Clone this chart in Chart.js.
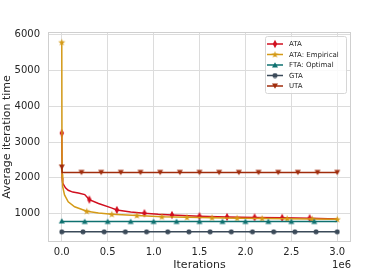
<!DOCTYPE html>
<html><head><meta charset="utf-8">
<script src="https://cdn.jsdelivr.net/npm/chart.js@4/dist/chart.umd.min.js"></script>
<style>html,body{margin:0;padding:0;background:#fff}#wrap{width:389px;height:272px}</style>
</head><body><div id="wrap"><canvas id="c" width="389" height="272"></canvas></div>
<script>
// ---- data (x in millions of iterations) ----
const seriesNames = ["ATA", "ATA: Empirical", "FTA: Optimal", "GTA", "UTA"];
const xTicks = [0, 0.5, 1.0, 1.5, 2.0, 2.5, 3.0];
const yTicks = [1000, 2000, 3000, 4000, 5000, 6000];

const ataX = [0, 0.004, 0.01, 0.04, 0.07, 0.12, 0.18, 0.25, 0.3, 0.4, 0.54, 0.6, 0.75, 0.9, 1.05, 1.2, 1.5, 1.8, 2.1, 2.4, 2.7, 3.0];
const ataY = [3250, 2000, 1850, 1720, 1650, 1600, 1575, 1530, 1390, 1280, 1160, 1100, 1045, 1010, 980, 960, 925, 905, 892, 880, 870, 850];
const ataMarks = [0, 0.3, 0.6, 0.9, 1.2, 1.5, 1.8, 2.1, 2.4, 2.7];

const empX = [0, 0.003, 0.01, 0.03, 0.07, 0.14, 0.2727, 0.4, 0.5455, 0.8182, 1.0909, 1.3636, 1.6364, 1.9091, 2.1818, 2.4545, 2.7273, 3.0];
const empY = [5790, 2100, 1750, 1520, 1330, 1190, 1065, 1015, 980, 945, 910, 895, 883, 872, 864, 857, 848, 840];
const empMarks = [0, 0.2727, 0.5455, 0.8182, 1.0909, 1.3636, 1.6364, 1.9091, 2.1818, 2.4545, 2.7273, 3.0];

const ftaX = [0, 0.004, 0.25, 0.5, 0.75, 1.0, 1.25, 1.5, 1.75, 2.0, 2.25, 2.5, 2.75, 3.0];
const ftaY = [795, 780, 780, 780, 780, 780, 780, 780, 780, 780, 780, 780, 780, 780];
const ftaMarks = [0, 0.25, 0.5, 0.75, 1.0, 1.25, 1.5, 1.75, 2.0, 2.25, 2.5, 2.75];

const gtaX = [0, 0.2308, 0.4615, 0.6923, 0.9231, 1.1538, 1.3846, 1.6154, 1.8462, 2.0769, 2.3077, 2.5385, 2.7692, 3.0];
const gtaY = [490, 490, 490, 490, 490, 490, 490, 490, 490, 490, 490, 490, 490, 490];
const gtaMarks = gtaX;

const utaX = [0, 0.004, 0.2143, 0.4286, 0.6429, 0.8571, 1.0714, 1.2857, 1.5, 1.7143, 1.9286, 2.1429, 2.3571, 2.5714, 2.7857, 3.0];
const utaY = [2300, 2150, 2150, 2150, 2150, 2150, 2150, 2150, 2150, 2150, 2150, 2150, 2150, 2150, 2150, 2150];
const utaMarks = [0, 0.2143, 0.4286, 0.6429, 0.8571, 1.0714, 1.2857, 1.5, 1.7143, 1.9286, 2.1429, 2.3571, 2.5714, 2.7857, 3.0];

// ---- styles ----
const colors = ["#d10f1f", "#d49a17", "#0e7170", "#3b4a59", "#a02c0c"];

function mk(w, h, color, draw) {
  const c = document.createElement('canvas'); c.width = w; c.height = h;
  const g = c.getContext('2d'); g.fillStyle = color; g.beginPath(); draw(g); g.closePath(); g.fill();
  return c;
}
const mDiamond = mk(6, 10, colors[0], g => { g.moveTo(3, 0.8); g.lineTo(5.2, 5); g.lineTo(3, 9.2); g.lineTo(0.8, 5); });
const mStar = mk(9, 9, colors[1], g => {
  for (let i = 0; i < 10; i++) {
    const r = i % 2 ? 1.5 : 3.7, a = -Math.PI / 2 + i * Math.PI / 5;
    const px = 4.5 + r * Math.cos(a), py = 4.8 + r * Math.sin(a);
    i ? g.lineTo(px, py) : g.moveTo(px, py);
  }
});
const mTriUp = mk(8, 8, colors[2], g => { g.moveTo(4, 1.2); g.lineTo(7, 6.4); g.lineTo(1, 6.4); });
const mCircle = mk(6, 6, colors[3], g => { g.arc(3, 3, 2.5, 0, Math.PI * 2); });
const mTriDown = mk(8, 8, colors[4], g => { g.moveTo(1, 1.6); g.lineTo(7, 1.6); g.lineTo(4, 6.8); });
const markers = [mDiamond, mStar, mTriUp, mCircle, mTriDown];

function pts(xs, ys) { return xs.map((x, i) => ({ x: x, y: ys[i] })); }
function radiusFor(marks) {
  return ctx => { const r = ctx.raw; return (r && marks.some(m => Math.abs(m - r.x) < 1e-4)) ? 3 : 0; };
}
const allX = [ataX, empX, ftaX, gtaX, utaX], allY = [ataY, empY, ftaY, gtaY, utaY];
const allMarks = [ataMarks, empMarks, ftaMarks, gtaMarks, utaMarks];

const datasets = seriesNames.map((name, i) => ({
  label: name,
  data: pts(allX[i], allY[i]),
  borderColor: colors[i],
  backgroundColor: colors[i],
  borderWidth: 1.5,
  pointStyle: markers[i],
  pointRadius: radiusFor(allMarks[i]),
  pointHoverRadius: 0,
  tension: 0,
  order: 5 - i,
  clip: false
}));

const tickFont = { family: 'DejaVu Sans', size: 10 };
const titleFont = { family: 'DejaVu Sans', size: 11 };
const textColor = '#262626';
const gridColor = '#dcdcdc';

const framePlugin = {
  id: 'frame',
  beforeDatasetsDraw(chart) {
    const a = chart.chartArea, g = chart.ctx;
    g.save(); g.strokeStyle = '#cfcfcf'; g.lineWidth = 1;
    g.strokeRect(Math.round(a.left) + 0.5, Math.round(a.top) + 0.5, Math.round(a.right - a.left) - 1, Math.round(a.bottom - a.top) - 1);
    g.restore();
  },
  afterDraw(chart) {
    const a = chart.chartArea, g = chart.ctx;
    g.save();
    // offset text
    g.fillStyle = textColor; g.font = '10px "DejaVu Sans"'; g.textAlign = 'right'; g.textBaseline = 'middle';
    g.fillText('1e6', a.right, 265);
    // legend
    const bx = 265.5, by = 36.5, bw = 81, bh = 57;
    g.fillStyle = 'rgba(255,255,255,0.85)'; g.strokeStyle = '#d6d6d6'; g.lineWidth = 1;
    g.beginPath();
    if (g.roundRect) g.roundRect(bx, by, bw, bh, 2); else g.rect(bx, by, bw, bh);
    g.fill(); g.stroke();
    g.font = '7px "DejaVu Sans"'; g.textAlign = 'left';
    chart.data.datasets.forEach((ds, i) => {
      const y = 44 + i * 10.5;
      g.strokeStyle = ds.borderColor; g.lineWidth = 1.5;
      g.beginPath(); g.moveTo(267, y); g.lineTo(283, y); g.stroke();
      const m = ds.pointStyle;
      g.drawImage(m, 275 - m.width / 2, y - m.height / 2);
      g.fillStyle = textColor; g.fillText(ds.label, 289, y + 0.5);
    });
    g.restore();
  }
};

new Chart(document.getElementById('c'), {
  type: 'line',
  data: { datasets: datasets },
  options: {
    responsive: false,
    animation: false,
    events: [],
    layout: { padding: { top: 32, right: 38, left: 0, bottom: 0 } },
    plugins: { legend: { display: false }, tooltip: { enabled: false } },
    scales: {
      x: {
        type: 'linear', min: -0.15, max: 3.15,
        afterFit(s) { s.height = 30; },
        afterBuildTicks(s) { s.ticks = xTicks.map(v => ({ value: v })); },
        ticks: { font: tickFont, color: textColor, padding: 4, maxRotation: 0, autoSkip: false,
                 callback: v => Number(v).toFixed(1) },
        grid: { color: gridColor, drawTicks: false, lineWidth: 1 },
        border: { display: false },
        title: { display: true, text: 'Iterations', font: titleFont, color: textColor, padding: { top: 0, bottom: 0 } }
      },
      y: {
        type: 'linear', min: 205, max: 6075,
        afterFit(s) { s.width = 48; },
        afterBuildTicks(s) { s.ticks = yTicks.map(v => ({ value: v })); },
        ticks: { font: tickFont, color: textColor, padding: 8, autoSkip: false, callback: v => String(v) },
        grid: { color: gridColor, drawTicks: false, lineWidth: 1 },
        border: { display: false },
        title: { display: true, text: 'Average iteration time', font: titleFont, color: textColor, padding: { top: 1, bottom: 0 } }
      }
    }
  },
  plugins: [framePlugin]
});
</script></body></html>
